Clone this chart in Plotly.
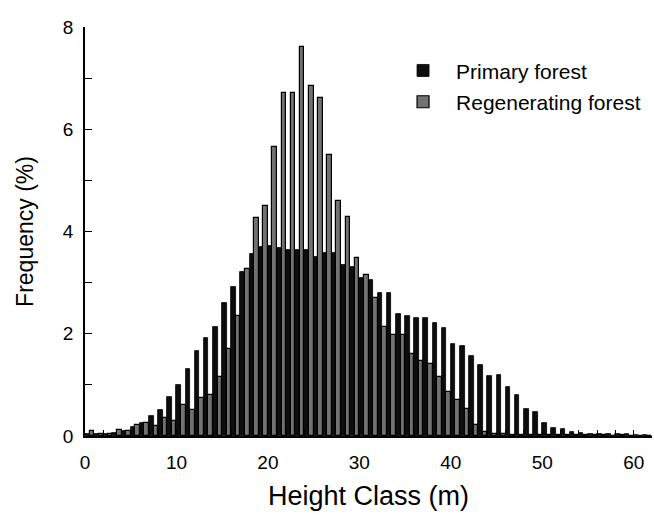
import plotly.graph_objects as go

# Height classes (lower bound of each 1 m bin)
height_class = list(range(0, 62))

primary_forest = [
    0.03, 0.03, 0.04, 0.06, 0.10, 0.18, 0.25, 0.40, 0.50, 0.76,
    1.00, 1.31, 1.67, 1.92, 2.14, 2.60, 2.92, 3.20, 3.56, 3.69,
    3.72, 3.67, 3.63, 3.64, 3.64, 3.50, 3.58, 3.57, 3.35, 3.30,
    3.10, 3.05, 2.80, 2.80, 2.39, 2.35, 2.30, 2.30, 2.21, 2.11,
    1.80, 1.76, 1.57, 1.39, 1.18, 1.20, 0.96, 0.80, 0.53, 0.46,
    0.26, 0.16, 0.14, 0.07, 0.05, 0.04, 0.04, 0.04, 0.03, 0.03,
    0.02, 0.02,
]

regenerating_forest = [
    0.10, 0.04, 0.04, 0.12, 0.10, 0.22, 0.25, 0.20, 0.35, 0.30,
    0.60, 0.50, 0.75, 0.80, 1.16, 1.70, 2.35, 3.27, 4.27, 4.49,
    5.65, 6.70, 6.70, 7.60, 6.84, 6.62, 5.50, 4.60, 4.29, 3.49,
    3.15, 2.70, 2.14, 1.98, 1.98, 1.60, 1.47, 1.41, 1.16, 0.86,
    0.70, 0.52, 0.22, 0.08, 0.04, 0.03, 0.02, 0.02, 0.02, 0.02,
    0.02, 0.02, 0.02, 0.01, 0.01, 0.01, 0.01, 0.00, 0.01, 0.00,
    0.00, 0.00,
]

x_ticks = [0, 10, 20, 30, 40, 50, 60]
y_ticks = [0, 2, 4, 6, 8]

FONT = "Liberation Sans, Arial, Helvetica, sans-serif"

fig = go.Figure()
fig.add_trace(go.Bar(
    x=height_class, y=primary_forest, name="Primary forest",
    offset=0.0, width=0.5,
    marker=dict(color="#0d0d0d", line=dict(color="#000000", width=0.8)),
    legendgroup="a",
))
fig.add_trace(go.Bar(
    x=height_class, y=regenerating_forest, name="Regenerating forest",
    offset=0.5, width=0.5,
    marker=dict(color="#727272", line=dict(color="#000000", width=1.2)),
    legendgroup="b",
))

fig.update_layout(
    width=654, height=515,
    margin=dict(l=85, r=2, t=27, b=79),
    paper_bgcolor="white", plot_bgcolor="white",
    barmode="overlay", bargap=0,
    font=dict(family=FONT, color="black", size=19),
    showlegend=True,
    legend=dict(
        x=0.538, y=0.943, xanchor="left", yanchor="top",
        font=dict(size=21, family=FONT),
        bgcolor="rgba(0,0,0,0)", tracegroupgap=1,
        itemwidth=56,
    ),
)

fig.update_xaxes(
    range=[0, 62], tickvals=x_ticks, ticktext=[str(v) for v in x_ticks],
    showline=True, linecolor="black", linewidth=1.6,
    ticks="inside", ticklen=6, tickcolor="black", tickwidth=1,
    minor=dict(dtick=2, tick0=0, ticks="inside", ticklen=6, tickcolor="black"),
    showgrid=False, zeroline=False,
    tickfont=dict(size=19), ticklabelstandoff=8,
    title=dict(text="Height Class (m)", font=dict(size=27), standoff=15),
)
fig.update_yaxes(
    range=[0, 8], tickvals=y_ticks, ticktext=[str(v) for v in y_ticks],
    showline=True, linecolor="black", linewidth=1.6,
    ticks="inside", ticklen=7, tickcolor="black", tickwidth=1,
    minor=dict(dtick=1, tick0=0, ticks="inside", ticklen=7, tickcolor="black"),
    showgrid=False, zeroline=False,
    tickfont=dict(size=19), ticklabelstandoff=6,
    title=dict(text="Frequency (%)", font=dict(size=23), standoff=23),
)

fig.write_html("out.html")
